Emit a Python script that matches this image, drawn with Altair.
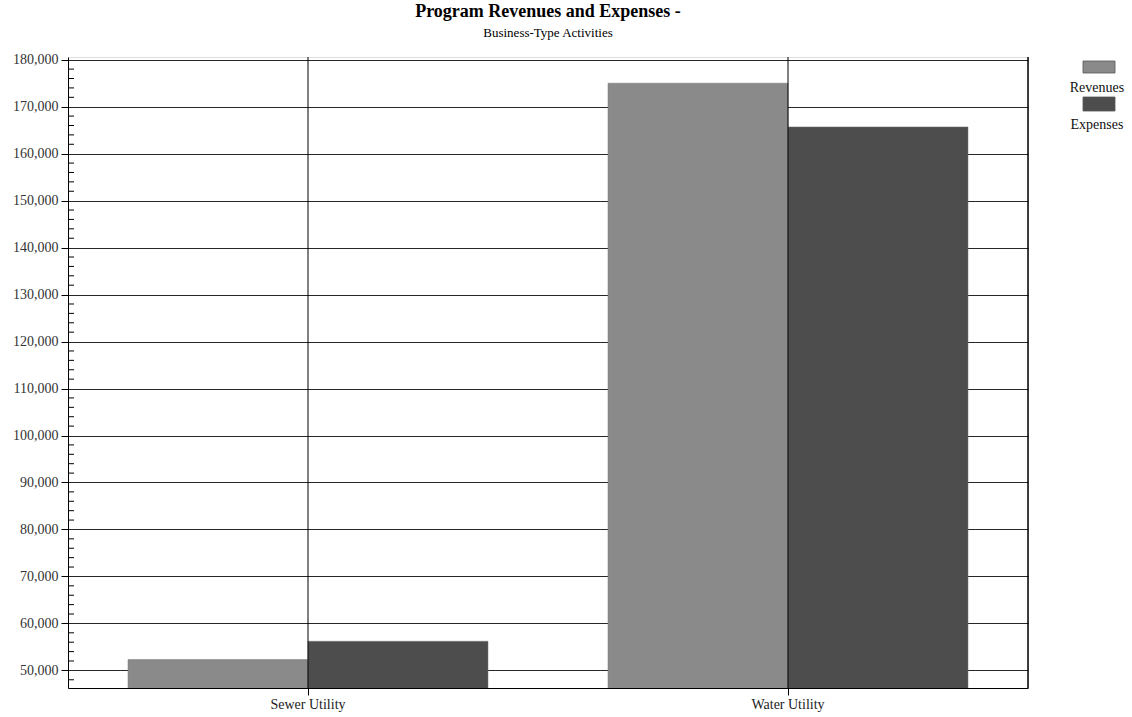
import altair as alt
import pandas as pd

categories = ["Sewer Utility", "Water Utility"]
series = ["Revenues", "Expenses"]
revenues = [52300, 175000]
expenses = [56200, 165700]
major_ticks = list(range(50000, 180001, 10000))
minor_ticks = [v for v in range(48000, 180001, 2000) if v % 10000 != 0]

rows = []
for i, c in enumerate(categories):
    rows.append({"category": c, "series": series[0], "value": revenues[i]})
    rows.append({"category": c, "series": series[1], "value": expenses[i]})
df = pd.DataFrame(rows)
cat_df = pd.DataFrame({"category": categories})
minor_df = pd.DataFrame({"v": minor_ticks})
legend_df = pd.DataFrame({"series": series, "idx": [0, 1]})

FONT = "Liberation Serif"
colors = ["#8a8a8a", "#4d4d4d"]

x_scale = alt.Scale(paddingInner=0.25, paddingOuter=0.125)
y_scale = alt.Scale(domain=[46250, 180580], zero=False, nice=False)

bars = alt.Chart(df).mark_bar(clip=True, stroke="#777777", strokeWidth=0.5).encode(
    x=alt.X("category:N", sort=categories, scale=x_scale,
            axis=alt.Axis(title=None, labelFont=FONT, labelFontSize=14, labelColor="#222222",
                          tickSize=7, tickColor="black", domainColor="black", labelAngle=0,
                          labelPadding=2, bandPosition=0.5, grid=False)),
    xOffset=alt.XOffset("series:N", sort=series, scale=alt.Scale(paddingInner=0, paddingOuter=0)),
    y=alt.Y("value:Q", scale=y_scale,
            axis=alt.Axis(title=None, values=major_ticks, format=",d", labelFont=FONT,
                          labelFontSize=14, labelColor="#333333", tickSize=7, tickColor="black",
                          domainColor="black", grid=True, gridColor="black", gridOpacity=0.85,
                          labelPadding=3)),
    color=alt.Color("series:N", sort=series, scale=alt.Scale(domain=series, range=colors), legend=None),
)

vlines = alt.Chart(cat_df).mark_rule(color="black", strokeWidth=1).encode(
    x=alt.X("category:N", sort=categories, scale=x_scale, bandPosition=0.5),
)

minor = alt.Chart(minor_df).mark_rule(color="black", strokeWidth=1).encode(
    y=alt.Y("v:Q", scale=y_scale),
    x=alt.value(0),
    x2=alt.value(6),
)

right_edge = alt.Chart(cat_df.head(1)).mark_rule(color="black", strokeWidth=1.5).encode(
    x=alt.value(960),
    y=alt.value(0),
    y2=alt.value(631),
)

leg_rects = alt.Chart(legend_df).transform_calculate(
    top="4 + datum.idx * 36", bottom="16 + datum.idx * 38"
).mark_rect(stroke="#555555", strokeWidth=0.8).encode(
    x=alt.value(1015),
    x2=alt.value(1047),
    y=alt.Y("top:Q", scale=None),
    y2=alt.Y2("bottom:Q"),
    color=alt.Color("series:N", sort=series, scale=alt.Scale(domain=series, range=colors), legend=None),
)

leg_text = alt.Chart(legend_df).transform_calculate(
    ty="31 + datum.idx * 37"
).mark_text(font=FONT, fontSize=14, color="#111111", align="center", baseline="middle").encode(
    x=alt.value(1029),
    y=alt.Y("ty:Q", scale=None),
    text="series:N",
)

chart = alt.layer(bars, vlines, minor, right_edge, leg_rects, leg_text).properties(
    width=960,
    height=631,
    title=alt.TitleParams("Program Revenues and Expenses -", subtitle="Business-Type Activities",
                          font=FONT, fontSize=18, fontWeight="bold", color="black",
                          subtitleFont=FONT, subtitleFontSize=13, subtitleColor="black",
                          anchor="middle", offset=13, subtitlePadding=6),
    autosize=alt.AutoSizeParams(type="none"),
    padding={"left": 68, "top": 57, "right": 104, "bottom": 29},
).configure_view(stroke="black", strokeWidth=1).configure(background="white")

chart.save("out.html", embed_options={"renderer": "svg", "actions": False})
